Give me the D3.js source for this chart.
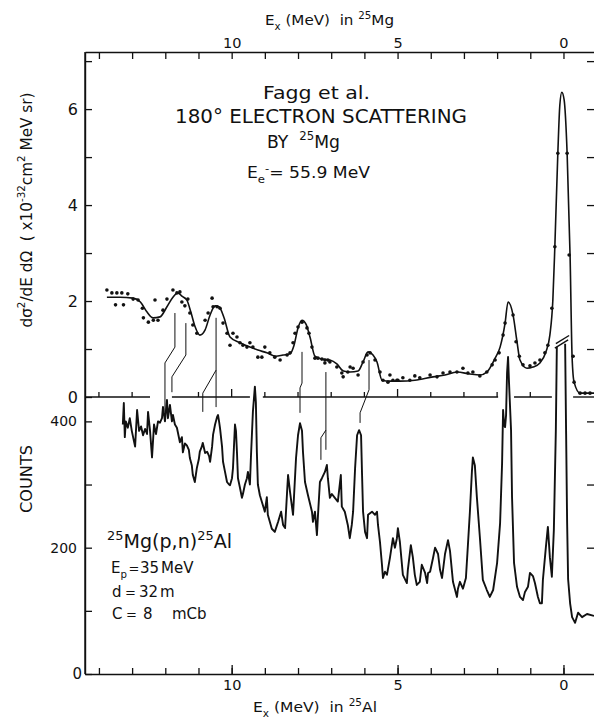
<!DOCTYPE html>
<html><head><meta charset="utf-8">
<script src="https://cdn.jsdelivr.net/npm/d3@7"></script>
<style>
body{margin:0;background:#fff}
svg{display:block}
text{font-family:"DejaVu Sans","Liberation Sans",Arial,sans-serif;fill:#111;white-space:pre}
</style>
</head><body>
<svg id="c" width="594" height="721"></svg>
<script>
// ---------------- DATA ----------------
// Excitation-energy tick values (MeV) shared by top (25Mg) and bottom (25Al) axes
const energyTicks = [0,1,2,3,4,5,6,7,8,9,10,11,12,13,14];
const energyLabels = [0,5,10];
// Upper panel: cross-section ticks (x10^-32 cm^2 / MeV sr)
const xsTicks = [0,1,2,3,4,5,6,7];
const xsLabels = [0,2,4,6];
// Lower panel: counts ticks
const countTicks = [0,100,200,300,400];
const countLabels = [0,200,400];

// Electron scattering fitted curve [Ex (MeV), d2sigma/dEdOmega]
const eeCurve = [[13.76,2.08],[13.37,2.08],[12.97,2.06],[12.75,1.98],[12.55,1.77],[12.37,1.65],[12.16,1.67],[11.95,1.88],[11.77,2.08],[11.62,2.17],[11.50,2.10],[11.35,2.02],[11.23,1.77],[11.11,1.48],[10.96,1.29],[10.80,1.40],[10.65,1.71],[10.50,1.90],[10.38,1.88],[10.23,1.65],[10.05,1.25],[9.75,1.13],[9.45,1.04],[9.21,0.98],[8.94,0.92],[8.67,0.85],[8.45,0.875],[8.24,0.90],[8.12,1.08],[8.00,1.44],[7.88,1.60],[7.76,1.52],[7.64,1.25],[7.49,0.85],[7.28,0.79],[7.04,0.77],[6.83,0.69],[6.63,0.54],[6.43,0.52],[6.19,0.54],[6.04,0.73],[5.89,0.94],[5.74,0.875],[5.62,0.73],[5.47,0.35],[5.23,0.33],[4.93,0.33],[4.48,0.35],[3.93,0.42],[3.57,0.46],[3.21,0.52],[2.82,0.48],[2.52,0.46],[2.31,0.52],[2.06,0.81],[1.91,1.04],[1.76,1.54],[1.67,1.98],[1.52,1.71],[1.40,1.15],[1.31,0.77],[1.10,0.60],[0.92,0.625],[0.71,0.71],[0.53,0.94],[0.41,1.29],[0.32,2.02],[0.26,3.13],[0.17,5.08],[0.11,6.08],[0.05,6.35],[-0.02,6.19],[-0.11,5.08],[-0.20,2.92],[-0.26,0.83],[-0.32,0.31],[-0.50,0.08],[-0.92,0.08]];

// Electron scattering measured points [Ex, value]
const eePoints = [[13.76,2.23],[13.61,2.17],[13.46,2.17],[13.31,2.17],[13.13,2.15],[13.50,1.92],[13.26,1.92],[12.97,2.04],[12.82,2.02],[12.69,1.85],[12.66,1.65],[12.51,1.56],[12.36,1.60],[12.31,2.02],[12.22,1.60],[12.07,1.81],[11.95,2.04],[11.77,2.23],[11.65,2.17],[11.56,2.19],[11.50,1.98],[11.41,1.90],[11.32,2.04],[11.26,1.75],[11.17,1.50],[11.05,1.33],[10.80,1.60],[10.71,1.75],[10.59,2.06],[10.56,1.88],[10.44,1.88],[10.35,1.85],[10.26,1.54],[10.14,1.33],[10.05,1.08],[9.96,1.33],[9.84,1.25],[9.75,1.13],[9.66,1.08],[9.54,1.04],[9.45,1.13],[9.36,1.04],[9.21,0.83],[9.09,0.83],[9.00,1.04],[8.85,0.92],[8.70,0.83],[8.54,0.77],[8.33,0.875],[8.24,0.92],[8.15,1.13],
[8.09,1.33],[8.00,1.46],[7.88,1.56],[7.73,1.44],[7.67,1.33],[7.58,1.04],[7.49,0.81],[7.40,0.81],[7.28,0.79],[7.19,0.77],[7.10,0.77],[7.04,0.73],[7.19,0.71],[6.83,0.625],[6.68,0.50],[6.64,0.42],[6.50,0.52],[6.43,0.625],[6.34,0.60],[6.19,0.46],[6.04,0.73],[5.92,0.875],[5.83,0.92],[5.68,0.77],[5.53,0.52],[5.44,0.35],[5.29,0.31],[5.14,0.35],[4.99,0.35],
[5.23,0.46],[5.02,0.35],[4.84,0.40],[4.63,0.35],[4.48,0.44],[4.33,0.40],[4.02,0.46],[3.81,0.42],[3.63,0.50],[3.42,0.52],[3.21,0.52],[3.03,0.60],[2.88,0.50],[2.73,0.52],[2.52,0.44],[2.31,0.52],[2.15,0.67],[2.06,0.77],[1.94,0.92],[1.82,1.29],[1.76,1.54],[1.52,1.71],[1.43,1.15],[1.33,0.85],[1.22,0.67],[1.01,0.65],[0.86,0.71],[0.71,0.77],[0.56,0.92],[0.47,1.08],[0.35,1.85],[0.26,3.13],[0.17,5.08],[-0.11,5.08],[-0.17,2.96],[-0.29,0.85],[-0.32,0.31],[-0.50,0.08],[-0.65,0.08],[-0.80,0.08]];

// 25Mg(p,n)25Al neutron spectrum [Ex in 25Al (MeV), counts]; null = scale break
const pnSpectrum = [[13.28,395],[13.25,429],[13.22,375],[13.19,400],[13.13,390],[13.07,405],[13.01,385],[12.91,360],[12.85,418],[12.79,385],[12.73,392],[12.67,378],[12.61,388],[12.55,380],[12.52,415],[12.46,385],[12.40,343],[12.34,395],[12.28,380],[12.22,400],[12.16,398],[12.10,405],[12.07,423],[12.01,400],[11.95,434],[11.92,405],[11.86,426],[11.80,400],[11.77,410],[11.71,395],[11.65,390],[11.56,367],[11.50,375],[11.47,351],[11.41,365],[11.35,362],[11.29,355],[11.26,342],[11.20,330],[11.17,315],[11.11,304],[11.05,326],[10.99,340],[10.96,352],[10.90,360],[10.87,366],[10.80,350],[10.74,352],[10.68,345],[10.65,336],[10.59,360],[10.56,379],[10.50,395],[10.44,407],[10.41,410],[10.38,400],[10.35,389],[10.29,360],[10.26,336],[10.20,320],[10.14,304],[10.08,300],[10.05,299],[9.99,310],[9.96,326],[9.90,395],[9.87,385],[9.84,351],[9.81,310],[9.75,295],[9.69,279],[9.66,285],[9.60,300],[9.54,310],[9.51,320],[9.45,300],[9.42,342],[9.36,415],[9.30,455],[9.27,430],[9.24,351],[9.21,300],[9.15,283],[9.00,257],[8.94,280],[8.91,252],[8.85,241],[8.79,230],[8.70,225],[8.60,241],[8.51,257],[8.45,236],[8.39,231],[8.33,288],[8.30,315],[8.24,288],[8.15,252],[8.06,342],[8.00,378],[7.94,397],[7.88,385],[7.85,351],[7.79,304],[7.70,283],[7.58,257],[7.55,241],[7.49,257],[7.43,220],[7.40,250],[7.34,304],[7.28,310],[7.19,320],[7.13,331],[7.10,310],[7.04,279],[6.98,285],[6.89,279],[6.80,273],[6.71,315],[6.68,265],[6.59,257],[6.50,236],[6.44,215],[6.38,236],[6.34,257],[6.28,326],[6.22,378],[6.16,386],[6.10,378],[6.07,315],[6.04,257],[5.98,225],[5.92,215],[5.89,252],[5.77,257],[5.68,252],[5.62,257],[5.59,236],[5.53,209],[5.47,173],[5.44,152],[5.38,162],[5.32,157],[5.23,184],[5.14,215],[5.08,200],[5.02,215],[4.99,231],[4.93,209],[4.84,157],[4.72,144],[4.69,165],[4.60,204],[4.54,185],[4.48,157],[4.42,141],[4.33,146],[4.27,173],[4.17,160],[4.11,144],[4.08,160],[4.02,162],[3.93,184],[3.87,200],[3.78,190],[3.72,165],[3.66,152],[3.57,190],[3.48,212],[3.42,195],[3.33,146],[3.21,122],[3.18,135],[3.12,146],[3.03,135],[2.94,152],[2.88,204],[2.82,257],[2.76,320],[2.73,343],[2.67,330],[2.61,280],[2.52,217],[2.43,149],[2.31,133],[2.22,122],[2.12,133],[2.00,176],[1.91,239],[1.85,334],[1.82,418],[1.79,395],[1.76,391],[1.73,410],[1.70,477],[1.67,502],[1.64,460],[1.58,386],[1.55,280],[1.49,176],[1.40,138],[1.31,122],[1.22,117],[1.16,130],[1.07,138],[1.01,160],[0.92,155],[0.86,144],[0.77,122],[0.71,112],[0.65,112],[0.62,149],[0.53,201],[0.47,233],[0.41,185],[0.35,154],[0.29,228],[0.23,386],[0.20,518],[0.08,null],[-0.05,523],[-0.08,380],[-0.11,240],[-0.14,150],[-0.20,112],[-0.26,90],[-0.35,81],[-0.44,97],[-0.56,90],[-0.71,95],[-0.92,92]];

// Correspondence lines between 25Mg and 25Al levels [Ex, upper-panel units]
const levelLinks = [
  [[11.71,1.75],[11.71,1.04],[12.01,0.71],[12.01,-0.31]],
  [[11.38,1.54],[11.38,0.875],[11.80,0.42],[11.80,0.10]],
  [[10.47,1.65],[10.47,-0.21]],
  [[10.47,0.56],[10.87,0.08],[10.87,-0.31]],
  [[7.88,0.94],[7.88,0.29],[7.94,0.19],[7.94,-0.33]],
  [[7.16,0.52],[7.16,-1.10]],
  [[7.16,-0.69],[7.31,-0.85],[7.31,-1.31]],
  [[5.86,0.77],[5.86,0.15],[6.13,-0.33],[6.13,-0.54]]
];
// Gaps in the upper-panel zero line [from Ex, to Ex]
const zeroLineGaps = [[12.46,11.80],[9.45,9.06],[1.97,1.49],[0.35,-0.29]];
// Scale-break marks on the ground-state peak [Ex, counts]
const breakMarks = [[[0.26,516],[-0.14,529]],[[0.23,523],[-0.17,536]]];

// ---------------- CHART ----------------
const ink = "#111";
const svg = d3.select("#c");
const x  = d3.scaleLinear().domain([14.42,-0.92]).range([85,594]);
const yU = d3.scaleLinear().domain([0,7.19]).range([397,52]);
const yL = d3.scaleLinear().domain([0,438.6]).range([674,397]);

function styleAxis(g, fs, sw){
  g.attr("font-family",null).attr("font-size",null);
  g.selectAll("text").attr("font-size",fs).attr("fill",ink);
  g.selectAll("line").attr("stroke",ink).attr("stroke-width",sw||1.3);
  g.selectAll(".domain").attr("stroke",ink).attr("stroke-width",1.4);
}

// top axis (Ex in 25Mg)
const gTop = svg.append("g").attr("transform","translate(0,52)")
  .call(d3.axisTop(x).tickValues(energyTicks).tickSizeInner(-7).tickSizeOuter(0).tickPadding(4)
    .tickFormat(d => energyLabels.includes(d) ? d : ""));
styleAxis(gTop, 14.5);

// bottom axis (Ex in 25Al)
const gBotMinor = svg.append("g").attr("transform","translate(0,674)")
  .call(d3.axisBottom(x).tickValues(energyTicks).tickSizeInner(-6).tickSizeOuter(0).tickFormat(""));
styleAxis(gBotMinor, 14.5);
const gBot = svg.append("g").attr("transform","translate(0,674)")
  .call(d3.axisBottom(x).tickValues(energyLabels).tickSizeInner(-9).tickSizeOuter(0).tickPadding(6));
styleAxis(gBot, 14.5);
gBot.select(".domain").remove();

// left axes
const gUL = svg.append("g").attr("transform","translate(85,0)")
  .call(d3.axisLeft(yU).tickValues(xsTicks).tickSizeInner(-7).tickSizeOuter(0).tickPadding(7)
    .tickFormat(d => xsLabels.includes(d) ? d : ""));
styleAxis(gUL, 16);
const gLL = svg.append("g").attr("transform","translate(85,0)")
  .call(d3.axisLeft(yL).tickValues(countTicks).tickSizeInner(-7).tickSizeOuter(0).tickPadding(8)
    .tickFormat(d => countLabels.includes(d) ? d : ""));
styleAxis(gLL, 14);
gLL.selectAll(".tick").filter(d => d === 0).select("text").attr("x",-3).attr("font-size",15);

// right ticks
const gUR = svg.append("g").attr("transform","translate(594,0)")
  .call(d3.axisRight(yU).tickValues(xsTicks.filter(d=>d>0)).tickSizeInner(-7).tickSizeOuter(0).tickFormat(""));
styleAxis(gUR, 10); gUR.select(".domain").remove();
const gLR = svg.append("g").attr("transform","translate(594,0)")
  .call(d3.axisRight(yL).tickValues([200,300,400]).tickSizeInner(-7).tickSizeOuter(0).tickFormat(""));
styleAxis(gLR, 10); gLR.select(".domain").remove();

// zero line of upper panel with gaps and upward ticks
const dom = x.domain();
let segs = [], start = dom[0];
zeroLineGaps.forEach(g => { segs.push([start, g[0]]); start = g[1]; });
segs.push([start, dom[1]]);
const gZero = svg.append("g");
gZero.selectAll("line.seg").data(segs).join("line").attr("class","seg")
  .attr("x1", d => x(d[0])).attr("x2", d => x(d[1]))
  .attr("y1", yU(0)).attr("y2", yU(0)).attr("stroke", ink).attr("stroke-width",1.4);
const inGap = e => zeroLineGaps.some(g => e < g[0] && e > g[1]);
gZero.selectAll("line.tk").data(energyTicks.filter(e => e > 0 && !inGap(e))).join("line").attr("class","tk")
  .attr("x1", d => x(d)).attr("x2", d => x(d))
  .attr("y1", yU(0)).attr("y2", d => yU(0) - (energyLabels.includes(d) ? 8 : 5))
  .attr("stroke", ink).attr("stroke-width",1.3);

// level correspondence lines
svg.append("g").selectAll("path").data(levelLinks).join("path")
  .attr("d", d3.line().x(d => x(d[0])).y(d => yU(d[1])))
  .attr("fill","none").attr("stroke",ink).attr("stroke-width",1);

// (p,n) spectrum
svg.append("path").datum(pnSpectrum)
  .attr("d", d3.line().defined(d => d[1] != null).x(d => x(d[0])).y(d => yL(d[1])))
  .attr("fill","none").attr("stroke",ink).attr("stroke-width",1.9).attr("stroke-linejoin","round");
svg.append("g").selectAll("path").data(breakMarks).join("path")
  .attr("d", d3.line().x(d => x(d[0])).y(d => yL(d[1])))
  .attr("fill","none").attr("stroke",ink).attr("stroke-width",1.4);

// electron scattering curve and points
svg.append("path").datum(eeCurve)
  .attr("d", d3.line().x(d => x(d[0])).y(d => yU(d[1])).curve(d3.curveMonotoneX))
  .attr("fill","none").attr("stroke",ink).attr("stroke-width",1.6);
svg.append("g").selectAll("circle").data(eePoints).join("circle")
  .attr("cx", d => x(d[0])).attr("cy", d => yU(d[1])).attr("r",1.8).attr("fill",ink);

// left vertical axis line (full height)
svg.append("line").attr("x1",85).attr("x2",85).attr("y1",52).attr("y2",674)
  .attr("stroke",ink).attr("stroke-width",1.4);

// ---------------- TEXT ----------------
// parts: string | [string, kind, xpos, fontsize]; kind in "", "sub", "sup"
function rich(parts, fs, attrs){
  const t = svg.append("text").attr("font-size", fs);
  Object.entries(attrs).forEach(([k,v]) => t.attr(k,v));
  if (attrs.textLength) t.attr("lengthAdjust","spacingAndGlyphs");
  let cur = 0;
  parts.forEach(p => {
    const [s, kind, xp, pfs] = Array.isArray(p) ? p : [p, ""];
    const off = kind === "sub" ? 0.32*fs : kind === "sup" ? -0.42*fs : 0;
    const ts = t.append("tspan").text(s).attr("dy", off - cur);
    if (xp != null) ts.attr("x", xp);
    if (kind) ts.attr("font-size", fs*0.68);
    if (pfs) ts.attr("font-size", pfs);
    cur = off;
  });
  return t;
}
rich(["E",["x","sub"]," (MeV)  in ",["25","sup"],"Mg"], 14.5, {x:265, y:25, textLength:129});
rich(["E",["x","sub"]," (MeV)  in ",["25","sup"],"Al"], 14.5, {x:253, y:712, textLength:124});
rich(["d","σ",["2","sup"],"/dE dΩ  ( x10",["-32","sup"],"cm",["2","sup"]," MeV sr)"], 16,
  {transform:"translate(32,210) rotate(-90)", "text-anchor":"middle", textLength:235});
rich(["COUNTS"], 16, {transform:"translate(32,479) rotate(-90)", "text-anchor":"middle", textLength:68});

rich(["Fagg et al."], 18, {x:263, y:99, textLength:107});
rich(["180° ELECTRON SCATTERING"], 20, {x:175, y:123, textLength:292});
rich(["BY  ",["25","sup"],"Mg"], 18, {x:267, y:148, textLength:73});
rich(["E",["e","sub"],["-","sup"],"= 55.9 MeV"], 15, {x:247, y:178, textLength:123});

rich([["25","sup"],"Mg(p,n)",["25","sup"],"Al"], 19, {x:107, y:548, textLength:125});
rich(["E",["p","sub"],["=","",128.5,13],["35","",140],["MeV","",161]], 15, {x:111, y:573});
rich(["d",["=","",125,13],["32","",139],["m","",160]], 15, {x:112, y:597});
rich(["C",["=","",126,13],["8","",143],["mCb","",172]], 15, {x:112, y:619});
</script>
</body></html>
